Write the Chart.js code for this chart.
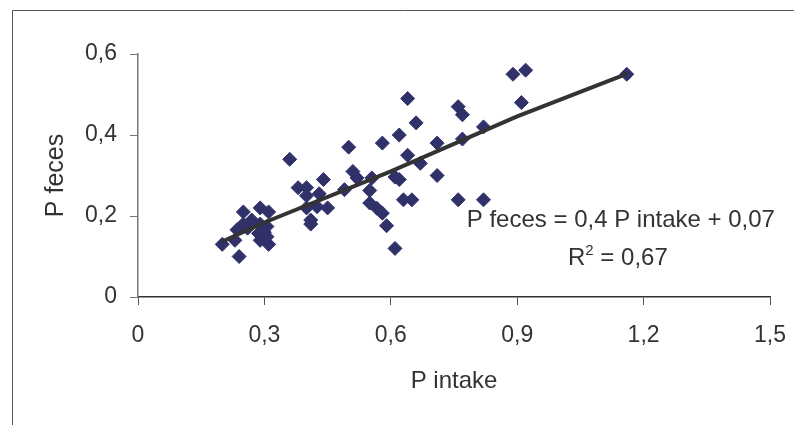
<!DOCTYPE html>
<html>
<head>
<meta charset="utf-8">
<script src="https://cdn.jsdelivr.net/npm/chart.js@4"></script>
<style>
  body { margin: 0; background: #fff; }
  #wrap { width: 794px; height: 425px; position: relative; }
</style>
</head>
<body>
<div id="wrap"><canvas id="chart"></canvas></div>
<script>
// P intake vs P feces
const pIntake = [
  0.20, 0.23, 0.24, 0.235, 0.25, 0.25, 0.27, 0.26, 0.29, 0.286, 0.29, 0.29, 0.306, 0.306, 0.31, 0.31, 0.30,
  0.36, 0.38, 0.40, 0.40, 0.43, 0.425, 0.45, 0.41, 0.41, 0.44, 0.40,
  0.50, 0.49, 0.51, 0.52, 0.55, 0.55, 0.555, 0.567, 0.58, 0.58, 0.59, 0.61, 0.62, 0.61, 0.62,
  0.63, 0.65, 0.64, 0.64, 0.66, 0.67, 0.71, 0.71, 0.76, 0.76, 0.77, 0.77, 0.82, 0.82,
  0.89, 0.92, 0.91, 1.16
];
const pFeces = [
  0.13, 0.14, 0.10, 0.166, 0.21, 0.18, 0.19, 0.17, 0.22, 0.157, 0.14, 0.18, 0.174, 0.149, 0.13, 0.21, 0.16,
  0.34, 0.27, 0.27, 0.25, 0.255, 0.223, 0.22, 0.19, 0.18, 0.29, 0.22,
  0.37, 0.265, 0.31, 0.294, 0.263, 0.232, 0.294, 0.219, 0.207, 0.38, 0.176, 0.12, 0.40, 0.296, 0.29,
  0.24, 0.24, 0.49, 0.35, 0.43, 0.33, 0.38, 0.30, 0.24, 0.47, 0.45, 0.39, 0.42, 0.24,
  0.55, 0.56, 0.48, 0.55
];

// trend line as drawn in the picture
const trendX = [0.20, 0.30, 0.60, 0.90, 1.16];
const trendY = [0.137, 0.184, 0.31, 0.446, 0.551];

const xTicks = [0, 0.3, 0.6, 0.9, 1.2, 1.5];
const yTicks = [0, 0.2, 0.4, 0.6];

const eqLine = "P feces = 0,4 P intake + 0,07";
const r2Value = "0,67";

const fmt = (v) => (v === 0 ? "0" : v.toFixed(1).replace(".", ","));
const FONT = "'Liberation Sans', Arial, Helvetica, sans-serif";

Chart.defaults.font.family = FONT;
Chart.defaults.color = "#333";

const extras = {
  id: "extras",
  afterDraw(chart) {
    const ctx = chart.ctx;
    const xs = chart.scales.x;
    const ys = chart.scales.y;
    ctx.save();
    // outer frame (cut by the picture edge on the right and bottom)
    ctx.strokeStyle = "#555";
    ctx.lineWidth = 1;
    ctx.beginPath();
    ctx.moveTo(12.5, chart.height + 2);
    ctx.lineTo(12.5, 10.5);
    ctx.lineTo(chart.width + 2, 10.5);
    ctx.stroke();

    // equation text
    ctx.fillStyle = "#333";
    ctx.textBaseline = "alphabetic";
    ctx.font = "24px " + FONT;
    ctx.textAlign = "center";
    const cx = xs.getPixelForValue(1.146);
    ctx.fillText(eqLine, cx, ys.getPixelForValue(0.173));

    const base2 = ys.getPixelForValue(0.079);
    const wR = ctx.measureText("R").width;
    const rest = " = " + r2Value;
    const wRest = ctx.measureText(rest).width;
    ctx.font = "15px " + FONT;
    const wSup = ctx.measureText("2").width;
    const x0 = xs.getPixelForValue(1.139) - (wR + wSup + wRest) / 2;
    ctx.textAlign = "left";
    ctx.font = "24px " + FONT;
    ctx.fillText("R", x0, base2);
    ctx.font = "15px " + FONT;
    ctx.fillText("2", x0 + wR, base2 - 10);
    ctx.font = "24px " + FONT;
    ctx.fillText(rest, x0 + wR + wSup, base2);
    ctx.restore();
  }
};

new Chart(document.getElementById("chart"), {
  type: "scatter",
  data: {
    datasets: [
      {
        label: "P feces",
        data: pIntake.map((x, i) => ({ x, y: pFeces[i] })),
        pointStyle: "rectRot",
        pointRadius: 7,
        pointHoverRadius: 7,
        backgroundColor: "#31316a",
        borderColor: "#31316a",
        borderWidth: 1,
        order: 2
      },
      {
        label: "trend",
        type: "line",
        data: trendX.map((x, i) => ({ x, y: trendY[i] })),
        borderColor: "#333",
        borderWidth: 4,
        pointRadius: 0,
        fill: false,
        tension: 0,
        order: 1
      }
    ]
  },
  options: {
    responsive: true,
    maintainAspectRatio: false,
    animation: false,
    layout: { padding: { top: 54, right: 24, left: 0, bottom: 0 } },
    plugins: {
      legend: { display: false },
      tooltip: { enabled: false }
    },
    scales: {
      x: {
        type: "linear",
        min: 0,
        max: 1.5,
        afterFit: (s) => { s.height = 128; s.paddingLeft = 0; s.paddingRight = 0; },
        afterBuildTicks: (s) => { s.ticks = xTicks.map((v) => ({ value: v })); },
        ticks: { callback: fmt, font: { size: 23 }, padding: 17, color: "#333", maxRotation: 0 },
        grid: { drawOnChartArea: false, drawTicks: true, tickLength: 8, color: "#555" },
        border: { display: true, color: "#333", width: 1.5 },
        title: { display: true, text: "P intake", font: { size: 24 }, padding: 29, color: "#333" }
      },
      y: {
        type: "linear",
        min: 0,
        max: 0.6,
        afterFit: (s) => { s.width = 138; s.paddingTop = 0; s.paddingBottom = 0; },
        afterBuildTicks: (s) => { s.ticks = yTicks.map((v) => ({ value: v })); },
        ticks: { callback: fmt, font: { size: 23 }, padding: 13, color: "#333" },
        grid: { drawOnChartArea: false, drawTicks: true, tickLength: 8, color: "#777" },
        border: { display: true, color: "#777", width: 1.5 },
        title: { display: true, text: "P feces", font: { size: 25 }, padding: 41, color: "#333" }
      }
    }
  },
  plugins: [extras]
});
</script>
</body>
</html>
